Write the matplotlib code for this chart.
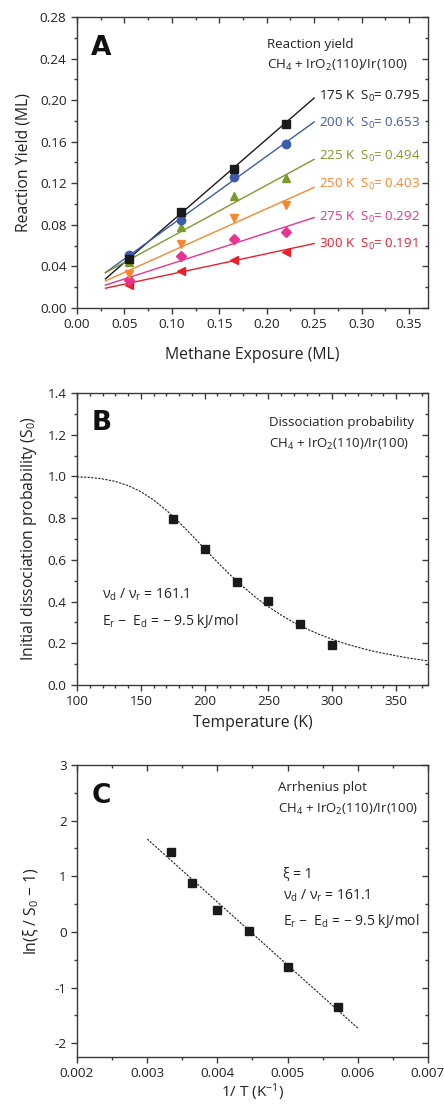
import matplotlib
matplotlib.use('Agg')
import matplotlib.pyplot as plt
from matplotlib.ticker import MultipleLocator

plt.rcParams['font.family'] = ['Open Sans', 'DejaVu Sans']
plt.rcParams['mathtext.fontset'] = 'custom'
plt.rcParams['mathtext.rm'] = 'Open Sans'
plt.rcParams['mathtext.it'] = 'Open Sans:italic'
plt.rcParams['axes.unicode_minus'] = False

# ---- panel A: reaction yield vs methane exposure
exposure = [0.055, 0.11, 0.165, 0.22]
temps_a = ['175 K', '200 K', '225 K', '250 K', '275 K', '300 K']
s0_a = ['0.795', '0.653', '0.494', '0.403', '0.292', '0.191']
yields = [
    [0.047, 0.092, 0.134, 0.177],
    [0.051, 0.085, 0.126, 0.158],
    [0.044, 0.078, 0.108, 0.125],
    [0.033, 0.062, 0.087, 0.099],
    [0.027, 0.050, 0.066, 0.073],
    [0.022, 0.036, 0.046, 0.054],
]
fit_x = [0.03, 0.25]
fit_y = [
    [0.028, 0.202],
    [0.034, 0.179],
    [0.034, 0.143],
    [0.026, 0.116],
    [0.022, 0.087],
    [0.019, 0.062],
]
label_y = [0.2035, 0.1775, 0.1455, 0.119, 0.0875, 0.061]
colors = ['#1a1a1a', '#3d5bab', '#7d9a2c', '#f7882f', '#e8348f', '#ea1f2c']
markers = ['s', 'o', '^', 'v', 'D', '<']

# ---- panel B: initial dissociation probability vs temperature
temp_b = [175, 200, 225, 250, 275, 300]
s0_b = [0.795, 0.653, 0.494, 0.403, 0.292, 0.191]
curve_t = [100, 110, 120, 130, 140, 150, 160, 170, 180, 190, 200, 210, 220, 230,
           240, 250, 260, 270, 280, 290, 300, 310, 320, 330, 340, 350, 360, 370, 375]
curve_s = [0.998, 0.995, 0.988, 0.976, 0.956, 0.927, 0.887, 0.838, 0.780, 0.718,
           0.653, 0.589, 0.528, 0.472, 0.420, 0.375, 0.335, 0.299, 0.269, 0.242,
           0.219, 0.198, 0.181, 0.165, 0.152, 0.140, 0.129, 0.120, 0.116]

# ---- panel C: Arrhenius plot
inv_t = [0.003333, 0.003636, 0.004, 0.004444, 0.005, 0.005714]
ln_c = [1.44, 0.886, 0.393, 0.024, -0.632, -1.356]
line_c_x = [0.003, 0.006]
line_c_y = [1.67, -1.73]

fig = plt.figure(figsize=(4.44, 11.05), dpi=100)
left, width = 0.1734, 0.7905
axA = fig.add_axes([left, 0.7213, width, 0.2633])
axB = fig.add_axes([left, 0.3801, width, 0.2643])
axC = fig.add_axes([left, 0.0434, width, 0.2643])

spine_c = '#3a3a3a'
txt_c = '#222222'
for ax in (axA, axB, axC):
    for s in ax.spines.values():
        s.set_color(spine_c)
        s.set_linewidth(1.0)
    ax.tick_params(which='both', direction='out', top=False, right=False,
                   color=spine_c, labelsize=9.7, labelcolor=txt_c)
    ax.tick_params(which='major', length=4, width=1)
    ax.tick_params(which='minor', length=2.5, width=1)
    # inward ticks on top/right
    sec = ax.secondary_xaxis('top')
    sec.tick_params(which='both', direction='in', labeltop=False, color=spine_c)
    sec.tick_params(which='major', length=4, width=1)
    sec.tick_params(which='minor', length=2.5, width=1)
    sec.spines['top'].set_visible(False)
    secy = ax.secondary_yaxis('right')
    secy.tick_params(which='both', direction='in', labelright=False, color=spine_c)
    secy.tick_params(which='major', length=4, width=1)
    secy.tick_params(which='minor', length=2.5, width=1)
    secy.spines['right'].set_visible(False)
    ax._sec = (sec, secy)

def set_locs(ax, xmaj, xmin, ymaj, ymin):
    sec, secy = ax._sec
    for a in (ax.xaxis, sec.xaxis):
        a.set_major_locator(MultipleLocator(xmaj))
        a.set_minor_locator(MultipleLocator(xmin))
    for a in (ax.yaxis, secy.yaxis):
        a.set_major_locator(MultipleLocator(ymaj))
        a.set_minor_locator(MultipleLocator(ymin))

# panel A
for i in range(len(temps_a)):
    axA.plot(fit_x, fit_y[i], color=colors[i], lw=1.0, zorder=2)
for i in reversed(range(len(temps_a))):
    axA.plot(exposure, yields[i], ls='none', marker=markers[i], color=colors[i],
             ms=6 if markers[i] != 'D' else 5, zorder=3)
for i in range(len(temps_a)):
    axA.text(0.255, label_y[i], temps_a[i] + '  S$_0$= ' + s0_a[i], color=colors[i],
             fontsize=9.6, va='center', ha='left')
axA.set_xlim(0, 0.37)
axA.set_ylim(0, 0.28)
set_locs(axA, 0.05, 0.025, 0.04, 0.02)
axA.xaxis.set_major_formatter(lambda v, p: f'{v:.2f}')
axA.yaxis.set_major_formatter(lambda v, p: f'{v:.2f}')
axA.set_xlabel('Methane Exposure (ML)', fontsize=11.3, labelpad=11, color=txt_c)
axA.set_ylabel('Reaction Yield (ML)', fontsize=11.3, labelpad=6, color=txt_c)
axA.text(0.2, 0.254, 'Reaction yield', fontsize=9.6, va='center', color=txt_c)
axA.text(0.2, 0.233, 'CH$_4$ + IrO$_2$(110)/Ir(100)', fontsize=9.6, va='center', color=txt_c)
axA.text(0.015, 0.25, 'A', fontsize=19, fontweight='bold', family='Liberation Sans Narrow',
         va='center', color='#111111')

# panel B
axB.plot(curve_t, curve_s, ls=(0, (2, 1.2)), color=txt_c, lw=0.8, zorder=2)
axB.plot(temp_b, s0_b, ls='none', marker='s', color='#1a1a1a', ms=6, zorder=3)
axB.set_xlim(100, 375)
axB.set_ylim(0, 1.4)
set_locs(axB, 50, 10, 0.2, 0.1)
axB.yaxis.set_major_formatter(lambda v, p: f'{v:.1f}')
axB.set_xlabel('Temperature (K)', fontsize=11.3, labelpad=5, color=txt_c)
axB.set_ylabel('Initial dissociation probability (S$_0$)', fontsize=11.3, labelpad=6,
               color=txt_c)
axB.text(250.3, 1.256, 'Dissociation probability', fontsize=9.5, va='center', color=txt_c)
axB.text(250.3, 1.155, 'CH$_4$ + IrO$_2$(110)/Ir(100)', fontsize=9.5, va='center', color=txt_c)
axB.text(119.4, 0.432, 'ν$_\\mathrm{d}$ / ν$_\\mathrm{r}$ = 161.1', fontsize=10, va='center',
         color=txt_c)
axB.text(119.4, 0.307, 'E$_\\mathrm{r}$ −  E$_\\mathrm{d}$ = − 9.5 kJ/mol', fontsize=10,
         va='center', color=txt_c)
axB.text(111.8, 1.256, 'B', fontsize=19, fontweight='bold', family='Liberation Sans Narrow',
         va='center', color='#111111')

# panel C
axC.plot(line_c_x, line_c_y, ls=(0, (2, 1.2)), color=txt_c, lw=0.8, zorder=2)
axC.plot(inv_t, ln_c, ls='none', marker='s', color='#1a1a1a', ms=6, zorder=3)
axC.set_xlim(0.002, 0.007)
axC.set_ylim(-2.25, 3)
set_locs(axC, 0.001, 0.0005, 1, 0.5)
axC.xaxis.set_major_formatter(lambda v, p: f'{v:.3f}')
axC.yaxis.set_major_formatter(lambda v, p: f'{v:.0f}')
axC.set_xlabel('1/ T (K$^{-1}$)', fontsize=11, labelpad=1, color=txt_c)
axC.set_ylabel('ln(ξ / S$_0$ − 1)', fontsize=11.3, labelpad=10, color=txt_c)
axC.text(0.00486, 2.59, 'Arrhenius plot', fontsize=9.5, va='center', color=txt_c)
axC.text(0.00486, 2.20, 'CH$_4$ + IrO$_2$(110)/Ir(100)', fontsize=9.5, va='center', color=txt_c)
axC.text(0.00493, 1.03, 'ξ = 1', fontsize=10, va='center', color=txt_c)
axC.text(0.00493, 0.64, 'ν$_\\mathrm{d}$ / ν$_\\mathrm{r}$ = 161.1', fontsize=10, va='center',
         color=txt_c)
axC.text(0.00493, 0.19, 'E$_\\mathrm{r}$ −  E$_\\mathrm{d}$ = − 9.5 kJ/mol', fontsize=10,
         va='center', color=txt_c)
axC.text(0.00221, 2.44, 'C', fontsize=19, fontweight='bold', family='Liberation Sans Narrow',
         va='center', color='#111111')

fig.savefig('out.png', dpi=100)
